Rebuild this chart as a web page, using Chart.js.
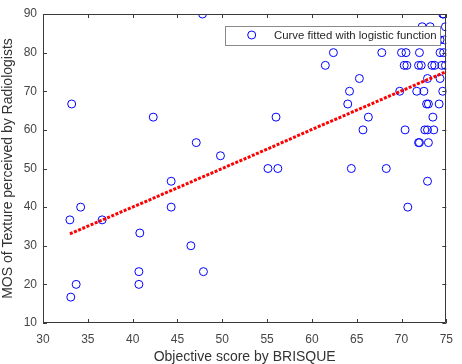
<!DOCTYPE html>
<html>
<head>
<meta charset="utf-8">
<script src="https://cdn.jsdelivr.net/npm/chart.js@4/dist/chart.umd.min.js"></script>
<style>
  body { margin: 0; background: #fff; }
  #wrap { width: 462px; height: 364px; }
</style>
</head>
<body>
<div id="wrap"><canvas id="myChart" width="462" height="364"></canvas></div>
<script>
// --------------------
// Data
// --------------------
const scoreX = [
  33.2, 42.3, 47.1, 49.8, 47.8, 33.0, 34.2, 36.6, 40.8, 44.3,
  44.3, 46.5, 40.7, 47.9, 33.7, 40.7, 33.1, 55.1, 56.2, 64.4,
  68.3, 72.9, 70.7, 56.0, 62.4, 61.5, 65.3, 64.2, 64.0, 66.3,
  65.7, 70.4, 72.6, 72.9, 73.6, 71.9, 72.0, 73.0, 73.5, 72.8,
  73.0, 74.2, 69.8, 71.7, 72.5, 74.6, 72.9, 74.3, 70.3, 70.6,
  71.9, 72.2, 73.4, 73.7, 74.5, 74.9, 67.8, 70.0, 70.5, 72.0,
  74.3, 74.7, 74.3, 74.8, 72.3, 73.2, 74.9, 74.6, 74.7
];
const mosY = [
  66.7, 63.3, 56.7, 53.3, 90.0, 36.7, 40.0, 36.7, 33.3, 46.7,
  40.0, 30.0, 23.3, 23.3, 20.0, 20.0, 16.7, 50.0, 50.0, 50.0,
  50.0, 46.7, 40.0, 63.3, 80.0, 76.7, 73.3, 70.0, 66.7, 63.3,
  60.0, 60.0, 60.0, 60.0, 60.0, 56.7, 56.7, 56.7, 63.3, 66.7,
  66.7, 66.7, 70.0, 70.0, 70.0, 70.0, 73.3, 73.3, 76.7, 76.7,
  76.7, 76.7, 76.7, 76.7, 76.7, 76.7, 80.0, 80.0, 80.0, 80.0,
  80.0, 80.0, 83.3, 83.3, 86.7, 86.7, 86.7, 90.0, 90.0
];

// fitted curve, read at a few x positions
const fitX = [33.0, 40.0, 45.0, 50.0, 55.0, 60.0, 65.0, 70.0, 75.0];
const fitY = [33.1, 40.0, 45.0, 50.0, 55.0, 60.1, 65.1, 70.1, 75.1];

const xTicks = [30, 35, 40, 45, 50, 55, 60, 65, 70, 75];
const yTicks = [10, 20, 30, 40, 50, 60, 70, 80, 90];

const legendText = "Curve fitted with logistic function";
const xTitle = "Objective score by BRISQUE";
const yTitle = "MOS of Texture perceived by Radiologists";

const FONT = "'Liberation Sans', Arial, sans-serif";
const axisColor = "#3a3a3a";
const textColor = "#454545";

// --------------------
// Box + inward ticks (MATLAB look)
// --------------------
const boxPlugin = {
  id: "boxTicks",
  afterDraw(chart) {
    const { ctx, chartArea: a, scales } = chart;
    const len = 4;
    ctx.save();
    ctx.strokeStyle = axisColor;
    ctx.lineWidth = 1;
    ctx.beginPath();
    ctx.rect(Math.round(a.left) + 0.5, Math.round(a.top) + 0.5,
             Math.round(a.right - a.left) - 1, Math.round(a.bottom - a.top) - 1);
    xTicks.forEach(v => {
      const px = Math.round(scales.x.getPixelForValue(v)) + 0.5;
      ctx.moveTo(px, a.bottom);
      ctx.lineTo(px, a.bottom - len);
      ctx.moveTo(px, a.top);
      ctx.lineTo(px, a.top + len);
    });
    yTicks.forEach(v => {
      const py = Math.round(scales.y.getPixelForValue(v)) + 0.5;
      ctx.moveTo(a.left, py);
      ctx.lineTo(a.left + len, py);
      ctx.moveTo(a.right, py);
      ctx.lineTo(a.right - len, py);
    });
    ctx.stroke();
    ctx.restore();
  }
};

// --------------------
// Legend box inside plot
// --------------------
const legendPlugin = {
  id: "insideLegend",
  afterDatasetsDraw(chart) {
    const { ctx } = chart;
    const x0 = 225.5, y0 = 26.5, w = 215, h = 19;
    ctx.save();
    ctx.fillStyle = "#fff";
    ctx.fillRect(x0, y0, w, h);
    ctx.strokeStyle = "#8a8a8a";
    ctx.lineWidth = 1;
    ctx.strokeRect(x0, y0, w, h);
    ctx.beginPath();
    ctx.arc(251.7, 35, 4, 0, Math.PI * 2);
    ctx.strokeStyle = "#0000ff";
    ctx.stroke();
    ctx.fillStyle = "#262626";
    ctx.font = "11.4px " + FONT;
    ctx.textBaseline = "middle";
    ctx.fillText(legendText, 274, 36);
    ctx.restore();
  }
};

const ctx = document.getElementById("myChart").getContext("2d");

new Chart(ctx, {
  type: "scatter",
  data: {
    datasets: [
      {
        label: "fit",
        data: fitX.map((x, i) => ({ x: x, y: fitY[i] })),
        showLine: true,
        pointRadius: 0,
        borderColor: "#ff0000",
        borderWidth: 3,
        borderDash: [3, 1.5],
        order: 0
      },
      {
        label: legendText,
        data: scoreX.map((x, i) => ({ x: x, y: mosY[i] })),
        pointStyle: "circle",
        pointRadius: 4,
        pointBorderWidth: 1,
        borderColor: "#0000ff",
        backgroundColor: "rgba(0,0,0,0)",
        order: 1
      }
    ]
  },
  options: {
    responsive: false,
    animation: false,
    events: [],
    layout: { padding: { top: 14, right: 10, left: 0, bottom: 0 } },
    scales: {
      x: {
        type: "linear",
        min: 30,
        max: 75,
        afterBuildTicks: s => { s.ticks = xTicks.map(v => ({ value: v })); },
        afterFit: s => { s.height = 41; },
        grid: { display: false, drawTicks: false },
        border: { display: false },
        ticks: { color: textColor, font: { family: FONT, size: 12 }, padding: 9, maxRotation: 0 },
        title: {
          display: true, text: xTitle, color: "#333",
          font: { family: FONT, size: 14, lineHeight: 1 },
          padding: { top: 0, bottom: 0 }
        }
      },
      y: {
        type: "linear",
        min: 10,
        max: 90,
        afterBuildTicks: s => { s.ticks = yTicks.map(v => ({ value: v })); },
        afterFit: s => { s.width = 43; },
        grid: { display: false, drawTicks: false },
        border: { display: false },
        ticks: { color: textColor, font: { family: FONT, size: 12 }, padding: 6 },
        title: {
          display: true, text: yTitle, color: "#333",
          font: { family: FONT, size: 14, lineHeight: 1 },
          padding: { top: 1, bottom: 0 }
        }
      }
    },
    plugins: {
      legend: { display: false },
      tooltip: { enabled: false }
    }
  },
  plugins: [boxPlugin, legendPlugin]
});
</script>
</body>
</html>
